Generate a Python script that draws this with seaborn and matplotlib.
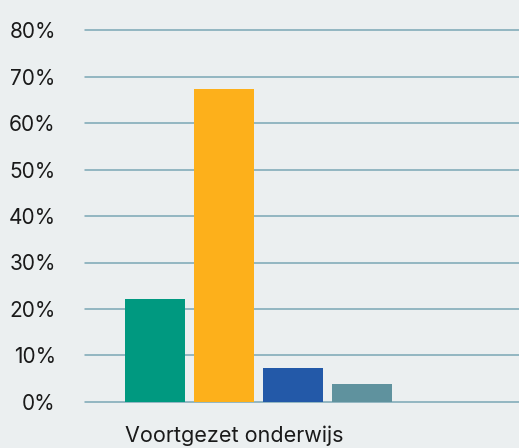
import pandas as pd
import matplotlib.pyplot as plt
import seaborn as sns

# data
category = ["Voortgezet onderwijs"]
series = ["A", "B", "C", "D"]
values = [0.221, 0.673, 0.073, 0.038]
colors = ["#009980", "#FDB01B", "#2359A8", "#5F929E"]
yticks = [0, 0.1, 0.2, 0.3, 0.4, 0.5, 0.6, 0.7, 0.8]

df = pd.DataFrame({"cat": category * len(series), "serie": series, "waarde": values})

sns.set_style("white")
plt.rcParams["font.family"] = ["Inter", "DejaVu Sans"]
bg = "#EBEFF0"

fig = plt.figure(figsize=(5.19, 4.48), dpi=100, facecolor=bg)
ax = fig.add_axes([0.1638, 0.1027, 0.8362, 0.8303], facecolor=bg)

sns.barplot(data=df, x="cat", y="waarde", hue="serie", palette=colors,
            width=0.8, gap=0.13, legend=False, ax=ax, saturation=1,
            linewidth=0, edgecolor="none")

ax.set_ylim(0, 0.8)
ax.set_xlim(-0.503, 0.755)
ax.set_yticks(yticks)
ax.set_yticklabels([f"{int(round(t * 100))}%" for t in yticks])
ax.yaxis.grid(True, color="#7AA6B4", linewidth=1.1)
ax.set_axisbelow(True)
for gl in ax.get_ygridlines():
    gl.set_clip_on(False)

ax.set_xticks([-0.387])
ax.set_xticklabels(category, ha="left")
ax.tick_params(axis="x", length=0, pad=17, labelsize=15.5, colors="#1a1a1a")
ax.tick_params(axis="y", length=0, pad=21, labelsize=15, colors="#1a1a1a")
ax.set_xlabel("")
ax.set_ylabel("")
sns.despine(ax=ax, left=True, bottom=True)

fig.savefig("out.png", dpi=100, facecolor=bg)
